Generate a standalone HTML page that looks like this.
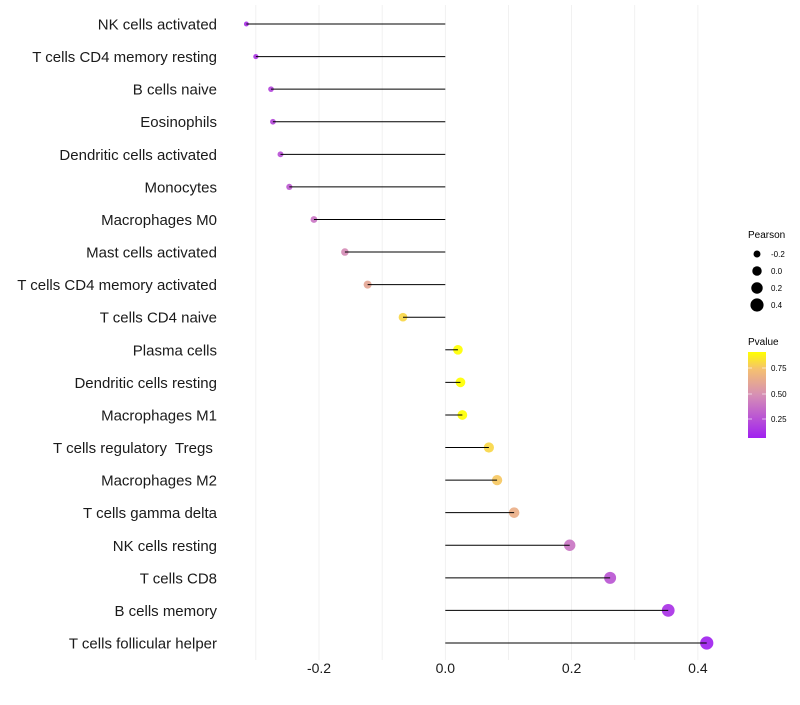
<!DOCTYPE html>
<html><head><meta charset="utf-8"><style>
body{margin:0;background:#fff;font-family:"Liberation Sans",sans-serif}
svg text{font-family:"Liberation Sans",sans-serif}
</style></head><body>
<svg id="chart" width="800" height="700" xmlns="http://www.w3.org/2000/svg">
<defs><linearGradient id="pg" x1="0" y1="1" x2="0" y2="0">
<stop offset="0" stop-color="#a020f0"/><stop offset="0.5" stop-color="#d68fb5"/><stop offset="0.8" stop-color="#f5c070"/><stop offset="1" stop-color="#ffff00"/></linearGradient></defs>
<g id="grid"></g>
<g id="marks"></g>
<g id="labels"></g>
<g id="xticks"></g>
<g>
<text x="748" y="238" font-size="10">Pearson</text>
<g id="sizeleg"></g>
</g>
<g>
<text x="748" y="345" font-size="10">Pvalue</text>
<rect x="748" y="352" width="18" height="86" fill="url(#pg)"/>
<line x1="748" y1="368" x2="752" y2="368" stroke="#fff" stroke-width="0.6"/><line x1="762" y1="368" x2="766" y2="368" stroke="#fff" stroke-width="0.6"/>
<line x1="748" y1="394" x2="752" y2="394" stroke="#fff" stroke-width="0.6"/><line x1="762" y1="394" x2="766" y2="394" stroke="#fff" stroke-width="0.6"/>
<line x1="748" y1="419" x2="752" y2="419" stroke="#fff" stroke-width="0.6"/><line x1="762" y1="419" x2="766" y2="419" stroke="#fff" stroke-width="0.6"/>
<text x="771" y="371" font-size="8">0.75</text>
<text x="771" y="397" font-size="8">0.50</text>
<text x="771" y="422" font-size="8">0.25</text>
</g>
</svg>
<script>
const categories=["NK cells activated","T cells CD4 memory resting","B cells naive","Eosinophils","Dendritic cells activated","Monocytes","Macrophages M0","Mast cells activated","T cells CD4 memory activated","T cells CD4 naive","Plasma cells","Dendritic cells resting","Macrophages M1","T cells regulatory  Tregs ","Macrophages M2","T cells gamma delta","NK cells resting","T cells CD8","B cells memory","T cells follicular helper"];
const pearson=[-0.315,-0.30,-0.276,-0.273,-0.261,-0.247,-0.208,-0.159,-0.123,-0.067,0.020,0.024,0.027,0.069,0.082,0.109,0.197,0.261,0.353,0.414];
const pvalue=[0.12,0.14,0.20,0.21,0.24,0.28,0.38,0.47,0.60,0.80,0.95,0.94,0.95,0.80,0.76,0.65,0.38,0.26,0.12,0.06];
const xTicks=[-0.2,0.0,0.2,0.4];
const gridVals=[-0.3,-0.2,-0.1,0,0.1,0.2,0.3,0.4];
const sizeLegend=[-0.2,0.0,0.2,0.4];
const NS="http://www.w3.org/2000/svg";
const xs=v=>445.3+v*631.5;
const ys=i=>24+i*(619/19);
const rs=v=>Math.sqrt(Math.max(6+52*(v+0.315),1));
function mk(t,a,p){const e=document.createElementNS(NS,t);for(const k in a)e.setAttribute(k,a[k]);p.appendChild(e);return e;}
function lerp(a,b,t){return a.map((x,i)=>Math.round(x+(b[i]-x)*t));}
function col(p){const t=Math.min(1,Math.max(0,(p-0.05)/0.86));
const st=[[0,[160,32,240]],[0.5,[214,143,181]],[0.8,[245,192,112]],[1,[255,255,0]]];
for(let i=0;i<st.length-1;i++){if(t<=st[i+1][0]){const c=lerp(st[i][1],st[i+1][1],(t-st[i][0])/(st[i+1][0]-st[i][0]));return `rgb(${c})`;}}return "rgb(255,255,0)";}
const grid=document.getElementById('grid'),marks=document.getElementById('marks'),labels=document.getElementById('labels'),xt=document.getElementById('xticks');
gridVals.forEach(v=>{const l=mk('line',{x1:xs(v),x2:xs(v),y1:5,y2:660,stroke:'#ebebeb','stroke-width':0.7},grid);

});
categories.forEach((c,i)=>{
const y=ys(i);
const ci=mk('circle',{cx:xs(pearson[i]),cy:y,r:rs(pearson[i]),fill:col(pvalue[i]),'fill-opacity':0.92},marks);


const ln=mk('line',{x1:xs(0),x2:xs(pearson[i]),y1:y,y2:y,stroke:'#000','stroke-width':1},marks);


const t=mk('text',{x:217,y:y+5.5,'font-size':15,'text-anchor':'end',fill:'#1a1a1a'},labels);
t.setAttribute('xml:space','preserve');
t.style.whiteSpace='pre';
t.textContent=c;


});
xTicks.forEach(v=>{const t=mk('text',{x:xs(v),y:673,'font-size':14,'text-anchor':'middle',fill:'#1a1a1a'},xt);
t.textContent=v.toFixed(1);

});
const sl=document.getElementById('sizeleg');
sizeLegend.forEach((v,i)=>{const y=254+i*17;
const c=mk('circle',{cx:757,cy:y,r:rs(v),fill:'#000'},sl);


const t=mk('text',{x:771,y:y+3,'font-size':8},sl);
t.textContent=v.toFixed(1);

});
</script>
</body></html>
